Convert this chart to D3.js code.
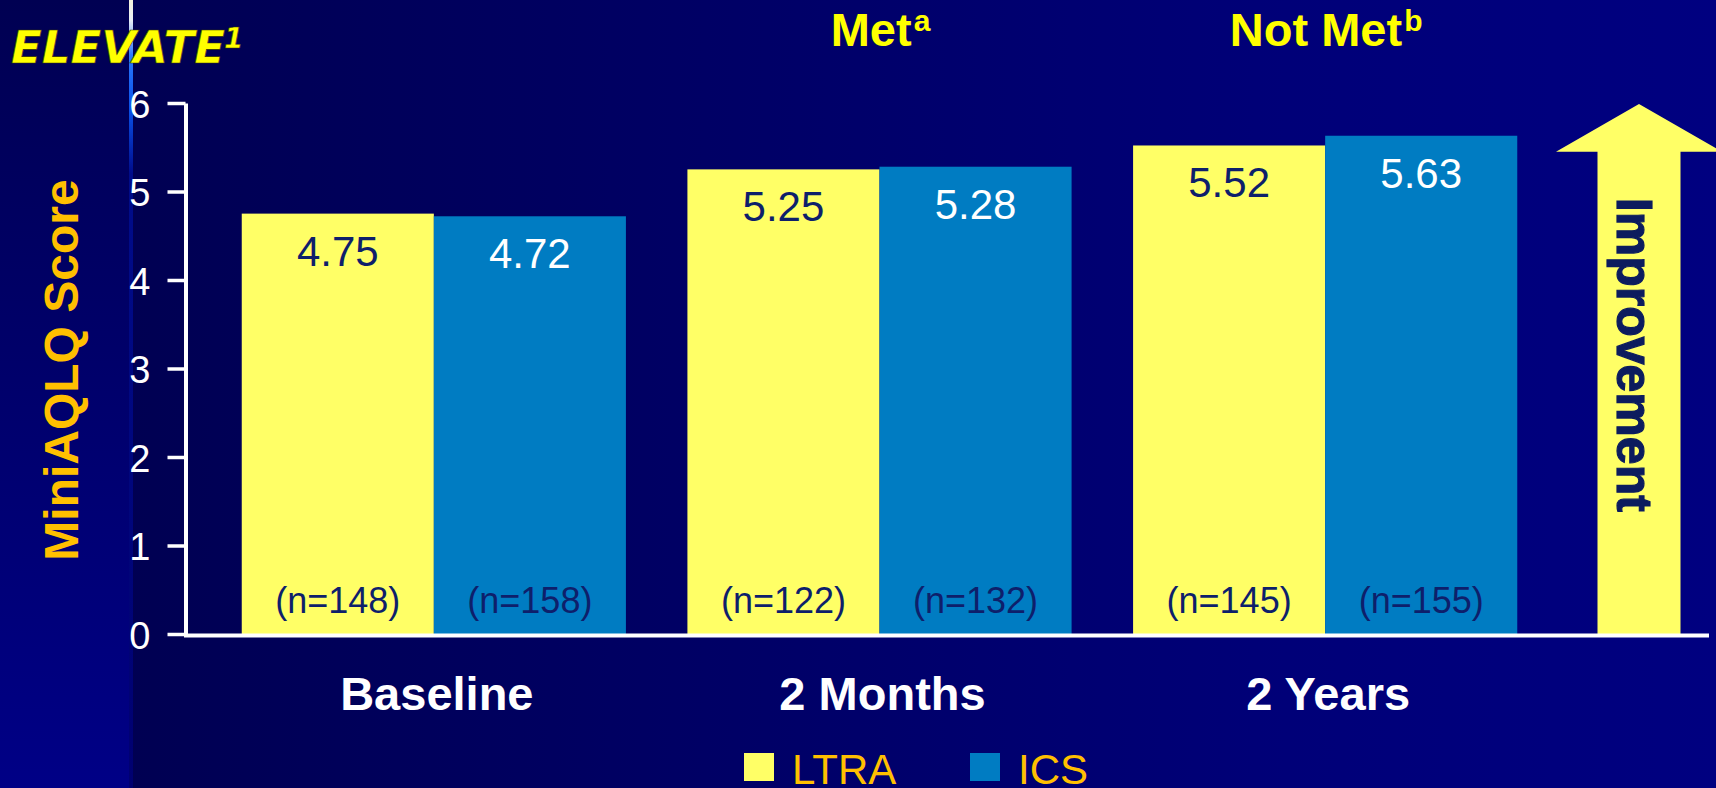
<!DOCTYPE html>
<html>
<head>
<meta charset="utf-8">
<script src="https://cdn.jsdelivr.net/npm/d3@7/dist/d3.min.js"></script>
<style>
  html, body { margin: 0; padding: 0; background: #000050; overflow: hidden; }
  svg { display: block; font-family: "Liberation Sans", Arial, Helvetica, sans-serif; }
</style>
</head>
<body>
<svg id="chart" width="1716" height="788"></svg>
<script>
// MiniAQLQ score by visit, LTRA vs ICS (ELEVATE trial)
const categories = ["Baseline", "2 Months", "2 Years"];
const seriesNames = ["LTRA", "ICS"];
const ltraValues = [4.75, 5.25, 5.52];
const icsValues = [4.72, 5.28, 5.63];
const ltraCounts = [148, 122, 145];
const icsCounts = [158, 132, 155];
const yTicks = [0, 1, 2, 3, 4, 5, 6];
const outcomeLabels = ["", "Met", "Not Met"];
const outcomeNotes = ["", "a", "b"];

const W = 1716, H = 788;
const colors = { LTRA: "#FFFF66", ICS: "#007CC2" };
const navyText = "#0E1F6B";
const gold = "#FFC000";
const sans = "'Liberation Sans', Arial, Helvetica, sans-serif";

const svg = d3.select("#chart");
const defs = svg.append("defs");

// background: slide panel with horizontal gradient, lighter side strip
const gMain = defs.append("linearGradient").attr("id", "bgMain")
  .attr("x1", "0").attr("y1", "0").attr("x2", "1").attr("y2", "0");
gMain.append("stop").attr("offset", "0").attr("stop-color", "#00004E");
gMain.append("stop").attr("offset", "0.75").attr("stop-color", "#000078");
gMain.append("stop").attr("offset", "1").attr("stop-color", "#000080");

const gSide = defs.append("linearGradient").attr("id", "bgSide")
  .attr("x1", "0").attr("y1", "0").attr("x2", "0").attr("y2", "1");
gSide.append("stop").attr("offset", "0").attr("stop-color", "#000052");
gSide.append("stop").attr("offset", "1").attr("stop-color", "#000086");

const gRule = defs.append("linearGradient").attr("id", "rule")
  .attr("x1", "0").attr("y1", "0").attr("x2", "0").attr("y2", "1");
gRule.append("stop").attr("offset", "0").attr("stop-color", "#F4F1DC");
gRule.append("stop").attr("offset", "0.025").attr("stop-color", "#E8EEF4");
gRule.append("stop").attr("offset", "0.07").attr("stop-color", "#2A78FF");
gRule.append("stop").attr("offset", "0.14").attr("stop-color", "#0A50E8");
gRule.append("stop").attr("offset", "0.22").attr("stop-color", "#000C8A");
gRule.append("stop").attr("offset", "1").attr("stop-color", "#000070");

svg.append("rect").attr("x", 0).attr("y", 0).attr("width", W).attr("height", H)
  .attr("fill", "url(#bgMain)");
svg.append("rect").attr("x", 0).attr("y", 0).attr("width", 129).attr("height", H)
  .attr("fill", "url(#bgSide)");
svg.append("rect").attr("x", 129).attr("y", 0).attr("width", 4).attr("height", H)
  .attr("fill", "url(#rule)");

// scales
const y = d3.scaleLinear().domain([0, 6]).range([634, 103]);
const x0 = d3.scaleBand().domain(categories).range([211, 1548])
  .paddingInner(0.138).paddingOuter(0.069);
const x1 = d3.scaleBand().domain(seriesNames).range([0, x0.bandwidth()]).padding(0);

const rows = categories.map((c, i) => ({
  category: c,
  bars: [
    { series: "LTRA", value: ltraValues[i], n: ltraCounts[i] },
    { series: "ICS", value: icsValues[i], n: icsCounts[i] }
  ]
}));

// improvement arrow (drawn from the value scale)
const ax = 1639, shaftHalf = 41.5, headHalf = 83;
const tipY = y(6) + 1, headBaseY = y(5.45), baseY = y(0);
svg.append("path")
  .attr("d", `M${ax},${tipY} L${ax + headHalf},${headBaseY} L${ax + shaftHalf},${headBaseY}
    L${ax + shaftHalf},${baseY} L${ax - shaftHalf},${baseY} L${ax - shaftHalf},${headBaseY}
    L${ax - headHalf},${headBaseY} Z`)
  .attr("fill", colors.LTRA);
svg.append("text")
  .attr("transform", `translate(${ax - 22},${(headBaseY + baseY) / 2 - 38}) rotate(90)`)
  .attr("text-anchor", "middle")
  .attr("font-size", 50).attr("font-weight", "bold")
  .attr("fill", "#0C1C5E").attr("stroke", "#0C1C5E").attr("stroke-width", 1.2)
  .text("Improvement");

// bars
const groups = svg.append("g").selectAll("g").data(rows).join("g")
  .attr("transform", d => `translate(${x0(d.category)},0)`);

groups.selectAll("rect").data(d => d.bars).join("rect")
  .attr("x", d => x1(d.series))
  .attr("y", d => y(d.value))
  .attr("width", x1.bandwidth())
  .attr("height", d => y(0) - y(d.value))
  .attr("fill", d => colors[d.series]);

groups.selectAll("text.val").data(d => d.bars).join("text")
  .attr("class", "val")
  .attr("x", d => x1(d.series) + x1.bandwidth() / 2)
  .attr("y", d => y(d.value) + 52)
  .attr("text-anchor", "middle")
  .attr("font-size", 42)
  .attr("fill", d => d.series === "LTRA" ? navyText : "#FFFFFF")
  .text(d => d.value.toFixed(2));

groups.selectAll("text.n").data(d => d.bars).join("text")
  .attr("class", "n")
  .attr("x", d => x1(d.series) + x1.bandwidth() / 2)
  .attr("y", y(0) - 21)
  .attr("text-anchor", "middle")
  .attr("font-size", 36)
  .attr("fill", navyText)
  .text(d => `(n=${d.n})`);

// y axis
const yAxis = svg.append("g").attr("transform", "translate(185.5,0)")
  .call(d3.axisLeft(y).tickValues(yTicks).tickSize(18).tickSizeOuter(0).tickPadding(17)
    .tickFormat(d3.format("d")));
yAxis.attr("font-family", null).attr("font-size", null);
yAxis.select(".domain").attr("stroke", "#FFFFFF").attr("stroke-width", 4);
yAxis.selectAll(".tick line").attr("stroke", "#FFFFFF").attr("stroke-width", 3.5);
yAxis.selectAll(".tick text").attr("fill", "#FFFFFF").attr("font-size", 38)
  .style("font-family", sans).attr("dy", "0.38em");

// x axis baseline and category labels
const xAxis = svg.append("g").attr("transform", `translate(3,${y(0)})`)
  .call(d3.axisBottom(x0).tickSize(0).tickPadding(0));
xAxis.attr("font-family", null).attr("font-size", null);
xAxis.select(".domain").remove();
xAxis.selectAll(".tick text").attr("fill", "#FFFFFF").attr("font-size", 47)
  .attr("font-weight", "bold").style("font-family", sans)
  .attr("y", 76).attr("dy", 0);
svg.append("line").attr("x1", 184).attr("x2", 1709).attr("y1", y(0) + 1.5).attr("y2", y(0) + 1.5)
  .attr("stroke", "#FFFFFF").attr("stroke-width", 4);

// y title
svg.append("text")
  .attr("transform", `translate(78,${370}) rotate(-90)`)
  .attr("text-anchor", "middle")
  .attr("font-size", 48).attr("font-weight", "bold").attr("fill", gold)
  .text("MiniAQLQ Score");

// outcome labels above groups
categories.forEach((c, i) => {
  if (!outcomeLabels[i]) return;
  const t = svg.append("text")
    .attr("x", x0(c) + x0.bandwidth() / 2 + 1)
    .attr("y", 45.5)
    .attr("text-anchor", "middle")
    .attr("font-size", 47).attr("font-weight", "bold").attr("fill", "#FFFF00");
  t.append("tspan").text(outcomeLabels[i]);
  t.append("tspan").attr("font-size", 30).attr("dy", -15).attr("dx", 2).text(outcomeNotes[i]);
});

// study name
const st = svg.append("text").attr("x", 11).attr("y", 63)
  .style("font-family", "'DejaVu Sans', Verdana, sans-serif")
  .attr("font-size", 45).attr("font-weight", "bold").attr("font-style", "italic")
  .attr("fill", "#FFFF00").attr("stroke", "#3A3A00").attr("stroke-width", 0.6);
st.append("tspan").text("ELEVATE");
st.append("tspan").attr("font-size", 28).attr("dy", -15).attr("dx", -1).text("1");

// legend
const legendX = [744, 970];
const lg = svg.append("g").selectAll("g").data(seriesNames).join("g")
  .attr("transform", (d, i) => `translate(${legendX[i]},753)`);
lg.append("rect").attr("width", 30).attr("height", 28).attr("fill", d => colors[d]);
lg.append("text").attr("x", 48).attr("y", 30.5)
  .attr("font-size", 42).attr("fill", gold).text(d => d);
</script>
</body>
</html>
